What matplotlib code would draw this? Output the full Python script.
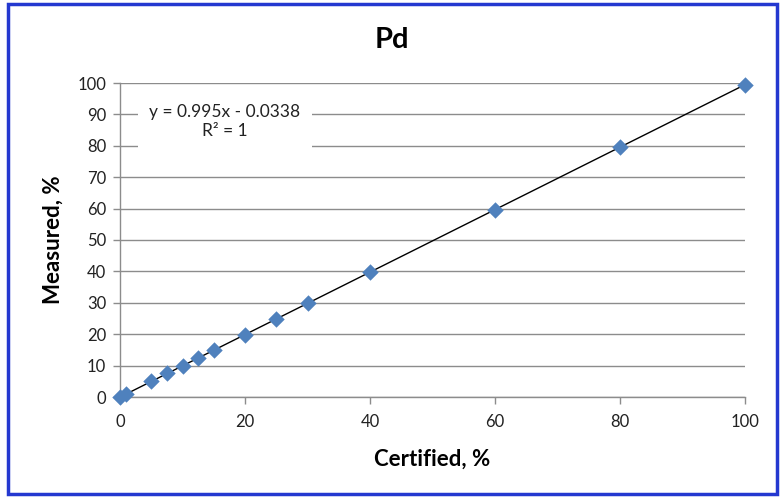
import matplotlib
matplotlib.use("Agg")
import matplotlib.pyplot as plt
from matplotlib.patches import Rectangle
import numpy as np

certified = [0, 1, 5, 7.5, 10, 12.5, 15, 20, 25, 30, 40, 60, 80, 100]
measured = [0, 1, 5, 7.5, 10, 12.4, 15, 19.9, 24.8, 29.8, 39.7, 59.6, 79.6, 99.5]
slope, intercept = 0.995, -0.0338
xticks = [0, 20, 40, 60, 80, 100]
yticks = list(range(0, 101, 10))

plt.rcParams['font.family'] = ['Lato', 'DejaVu Sans']

fig = plt.figure(figsize=(7.83, 4.99), dpi=100)
ax = fig.add_axes([120/783, 1-397/499, 625/783, 314/499])

xl = np.array([0, 100])
ax.plot(xl, slope*xl + intercept, color='black', lw=1.0, zorder=3)
ax.scatter(certified, measured, marker='D', s=70, color='#4F81BD', zorder=4,
           linewidths=0, clip_on=False)

ax.set_xlim(0, 100)
ax.set_ylim(0, 100)
ax.set_xticks(xticks)
ax.set_yticks(yticks)
ax.grid(axis='y', color='#8c8c8c', lw=1.0)
ax.set_axisbelow(True)
for s in ['top', 'right']:
    ax.spines[s].set_visible(False)
for s in ['left', 'bottom']:
    ax.spines[s].set_color('#8c8c8c')
    ax.spines[s].set_linewidth(1.0)
ax.tick_params(colors='#8c8c8c', labelcolor='#222222', labelsize=12, length=5, width=1.0)
ax.tick_params(axis='x', pad=7)
ax.tick_params(axis='y', pad=5)

ax.set_xlabel('Certified, %', fontsize=16, fontweight='bold', labelpad=14)
ax.set_ylabel('Measured, %', fontsize=16, fontweight='bold', labelpad=10)
fig.text(0.5, 1-40/499, 'Pd', ha='center', va='center', fontsize=21, fontweight='bold')

ax.text(16.8, 87.8, 'y = 0.995x - 0.0338\nR² = 1', ha='center', va='center',
        fontsize=12.5, color='#222222', linespacing=1.25,
        bbox=dict(facecolor='white', edgecolor='none', pad=8), zorder=5)

fig.patches.append(Rectangle((8/783, 1-494/499), 769/783, 490/499, transform=fig.transFigure,
                             fill=False, edgecolor='#2438d0', lw=2.5))

fig.savefig('out.png', dpi=100)
